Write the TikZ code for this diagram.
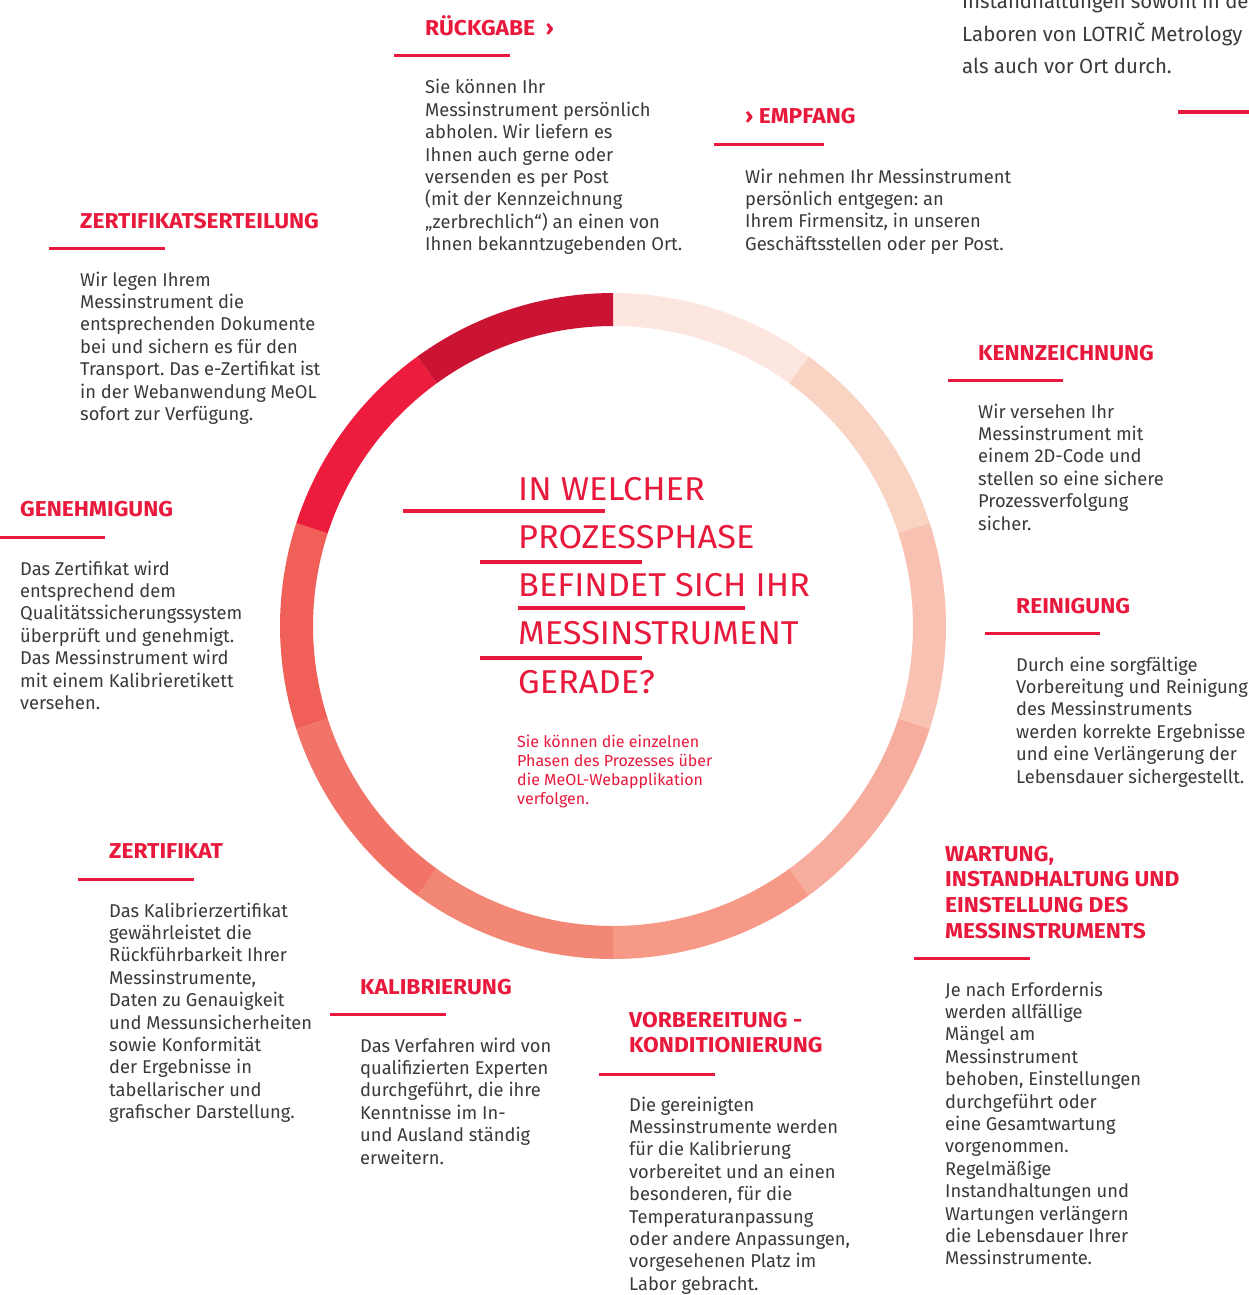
\documentclass[tikz,border=0pt]{standalone}
\usepackage{fontspec}
\setmainfont{Fira Sans}
\frenchspacing
\newfontfamily\bodyf{Fira Sans}[FakeStretch=0.99]
\newfontfamily\headf{Fira Sans}[FakeStretch=1.06]
\newfontfamily\condf{Fira Sans}[FakeStretch=1.04]
\newfontfamily\subf{Fira Sans}[FakeStretch=1.0]
\definecolor{lotred}{HTML}{E8193C}
\definecolor{txt}{HTML}{3A3A3A}
\definecolor{sega}{HTML}{FDE6E0}
\definecolor{segb}{HTML}{FAD4C3}
\definecolor{segc}{HTML}{F9C1B1}
\definecolor{segd}{HTML}{F7AD9E}
\definecolor{sege}{HTML}{F69987}
\definecolor{segf}{HTML}{F38776}
\definecolor{segg}{HTML}{F27468}
\definecolor{segh}{HTML}{F06059}
\definecolor{segi}{HTML}{EE1C3C}
\definecolor{segj}{HTML}{CB1433}
\newcommand\lns[1]{\begin{tabular}[t]{@{}l@{}}#1\end{tabular}}
\tikzset{
  head/.style={anchor=base west, inner sep=0pt, text=lotred,
    font={\headf\bfseries\fontsize{21.5}{25.7}\selectfont}},
  body/.style={anchor=base west, inner sep=0pt, text=txt,
    font={\bodyf\fontsize{18.5}{22.4}\selectfont}},
  redrule/.style={draw=lotred, line width=3pt},
  barrule/.style={draw=lotred, line width=4.5pt},
  big/.style={anchor=base west, inner sep=0pt, text=lotred,
    font={\condf\fontsize{33}{48.3}\selectfont}},
  sub/.style={anchor=base west, inner sep=0pt, text=lotred,
    font={\subf\fontsize{16}{19.3}\selectfont}},
  toptext/.style={anchor=base west, inner sep=0pt, text=txt,
    font={\bodyf\fontsize{20.6}{32.2}\selectfont}},
}
\begin{document}
\begin{tikzpicture}[x=1pt,y=-1pt]
\useasboundingbox (0,0) rectangle (1249,1295);
\clip (0,0) rectangle (1249,1295);
\fill[white] (0,0) rectangle (1249,1295);
% ring
\foreach \k/\c in {0/sega,1/segb,2/segc,3/segd,4/sege,5/segf,6/segg,7/segh,8/segi,9/segj}{
  \pgfmathsetmacro\aa{-90+36*\k}
  \pgfmathsetmacro\bb{-54+36*\k}
  \fill[\c] plot[domain=\aa:\bb, samples=30] ({613+333*cos(\x)},{626+333*sin(\x)})
     -- plot[domain=\bb:\aa, samples=30] ({613+300*cos(\x)},{626+300*sin(\x)}) -- cycle;
}
% top right partial block
\node[toptext] (topt) at (962,9) {\lns{Instandhaltungen sowohl in den\\Laboren von LOTRIČ Metrology\\als auch vor Ort durch.}};
\draw[barrule] (1178,112) -- (1249,112);
% Rueckgabe
\node[head] (h1) at (425,35.5) {RÜCKGABE\hspace{5pt} ›};
\draw[redrule] (394,56) -- (510,56);
\node[body] (b1) at (425,94) {\lns{Sie können Ihr\\Messinstrument persönlich\\abholen. Wir liefern es\\Ihnen auch gerne oder\\versenden es per Post\\(mit der Kennzeichnung\\„zerbrechlich“) an einen von\\Ihnen bekanntzugebenden Ort.}};
% Empfang
\node[head] (h2) at (745,123.5) {› EMPFANG};
\draw[redrule] (714,144) -- (824,144);
\node[body] (b2) at (745,183) {\lns{Wir nehmen Ihr Messinstrument\\persönlich entgegen: an\\Ihrem Firmensitz, in unseren\\Geschäftsstellen oder per Post.}};
% Kennzeichnung
\node[head] (h3) at (978,360) {KENNZEICHNUNG};
\draw[redrule] (948,380) -- (1063,380);
\node[body] (b3) at (978,418) {\lns{Wir versehen Ihr\\Messinstrument mit\\einem 2D-Code und\\stellen so eine sichere\\Prozessverfolgung\\sicher.}};
% Reinigung
\node[head] (h4) at (1016,613) {REINIGUNG};
\draw[redrule] (985,633) -- (1100,633);
\node[body] (b4) at (1016,671) {\lns{Durch eine sorgfältige\\Vorbereitung und Reinigung\\des Messinstruments\\werden korrekte Ergebnisse\\und eine Verlängerung der\\Lebensdauer sichergestellt.}};
% Wartung
\node[head] (h5) at (945,861) {\lns{WARTUNG,\\INSTANDHALTUNG UND\\EINSTELLUNG DES\\MESSINSTRUMENTS}};
\draw[redrule] (914,958) -- (1030,958);
\node[body] (b5) at (945,996) {\lns{Je nach Erfordernis\\werden allfällige\\Mängel am\\Messinstrument\\behoben, Einstellungen\\durchgeführt oder\\eine Gesamtwartung\\vorgenommen.\\Regelmäßige\\Instandhaltungen und\\Wartungen verlängern\\die Lebensdauer Ihrer\\Messinstrumente.}};
% Vorbereitung
\node[head] (h6) at (629,1027) {\lns{VORBEREITUNG -\\KONDITIONIERUNG}};
\draw[redrule] (599,1074) -- (715,1074);
\node[body] (b6) at (629,1111) {\lns{Die gereinigten\\Messinstrumente werden\\für die Kalibrierung\\vorbereitet und an einen\\besonderen, für die\\Temperaturanpassung\\oder andere Anpassungen,\\vorgesehenen Platz im\\Labor gebracht.}};
% Kalibrierung
\node[head] (h7) at (360,994) {KALIBRIERUNG};
\draw[redrule] (330,1014) -- (446,1014);
\node[body] (b7) at (360,1052) {\lns{Das Verfahren wird von\\qualifizierten Experten\\durchgeführt, die ihre\\Kenntnisse im In-\\und Ausland ständig\\erweitern.}};
% Zertifikat
\node[head] (h8) at (109,858) {ZERTIFIKAT};
\draw[redrule] (78,879) -- (194,879);
\node[body] (b8) at (109,917) {\lns{Das Kalibrierzertifikat\\gewährleistet die\\Rückführbarkeit Ihrer\\Messinstrumente,\\Daten zu Genauigkeit\\und Messunsicherheiten\\sowie Konformität\\der Ergebnisse in\\tabellarischer und\\grafischer Darstellung.}};
% Genehmigung
\node[head] (h9) at (20,516) {GENEHMIGUNG};
\draw[redrule] (0,537) -- (105,537);
\node[body] (b9) at (20,575) {\lns{Das Zertifikat wird\\entsprechend dem\\Qualitätssicherungssystem\\überprüft und genehmigt.\\Das Messinstrument wird\\mit einem Kalibrieretikett\\versehen.}};
% Zertifikatserteilung
\node[head] (h10) at (80,228) {ZERTIFIKATSERTEILUNG};
\draw[redrule] (49,248) -- (165,248);
\node[body] (b10) at (80,286) {\lns{Wir legen Ihrem\\Messinstrument die\\entsprechenden Dokumente\\bei und sichern es für den\\Transport. Das e-Zertifikat ist\\in der Webanwendung MeOL\\sofort zur Verfügung.}};
% centre
\node[big] (q) at (518,500) {\lns{IN WELCHER\\PROZESSPHASE\\BEFINDET SICH IHR\\MESSINSTRUMENT\\GERADE?}};
\draw[barrule] (403,511) -- (605,511);
\draw[barrule] (480,562) -- (642,562);
\draw[barrule] (518,608) -- (745,608);
\draw[barrule] (480,658) -- (642,658);
\node[sub] (s) at (517,747) {\lns{Sie können die einzelnen\\Phasen des Prozesses über\\die MeOL-Webapplikation\\verfolgen.}};
\end{tikzpicture}
\end{document}
